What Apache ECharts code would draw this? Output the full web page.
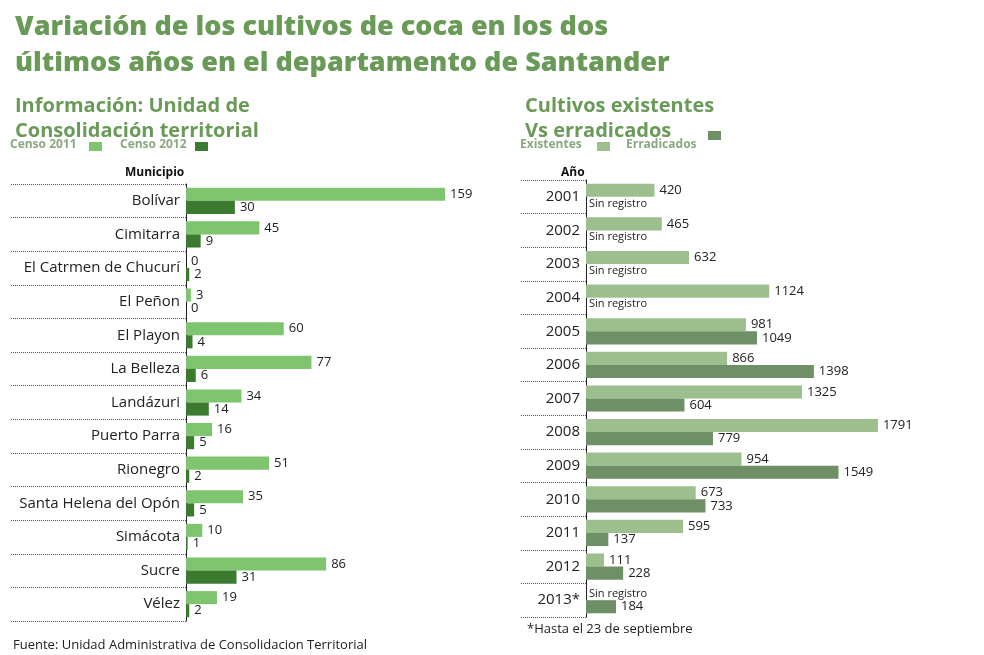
<!DOCTYPE html>
<html><head><meta charset="utf-8">
<script src="https://cdn.jsdelivr.net/npm/echarts@6/dist/echarts.min.js"></script>
<style>html,body{margin:0;background:#fff}#c{width:984px;height:655px}</style>
</head><body><div id="c"></div>
<script>
const municipios = ['Bolívar','Cimitarra','El Catrmen de Chucurí','El Peñon','El Playon','La Belleza','Landázuri','Puerto Parra','Rionegro','Santa Helena del Opón','Simácota','Sucre','Vélez'];
const censo2011 = [159,45,0,3,60,77,34,16,51,35,10,86,19];
const censo2012 = [30,9,2,0,4,6,14,5,2,5,1,31,2];
const anios = ['2001','2002','2003','2004','2005','2006','2007','2008','2009','2010','2011','2012','2013*'];
const existentes = [420,465,632,1124,981,866,1325,1791,954,673,595,111,null];
const erradicados = [null,null,null,null,1049,1398,604,779,1549,733,137,228,184];

const cL = '#7fc56f', cD = '#3b7a2f', rL = '#9dbf8d', rD = '#6f8f66', tg = '#6a9a58';
const font = 'Open Sans';
const lbl = {show:true,position:'right',color:'#222',fontSize:13,fontFamily:font};
const withNull = arr => arr.map(v => v === null ? {value:0,label:{...lbl,formatter:'Sin registro',fontSize:11,position:'insideLeft',offset:[-2,0]}} : v);
const catAxis = (data, idx, tickLen) => ({type:'category',gridIndex:idx,data,inverse:true,
  axisLine:{lineStyle:{color:'#222'}},
  axisTick:{show:true,length:tickLen,lineStyle:{type:'dotted',color:'#555'}},
  axisLabel:{color:'#222',fontSize:15,fontFamily:font,margin:6},
  splitLine:{show:false}});
const valAxis = (max, idx) => ({type:'value',gridIndex:idx,min:0,max,show:false,splitLine:{show:false}});
const chart = echarts.init(document.getElementById('c'));
chart.setOption({
  animation:false,
  title:[
    {text:'Variación de los cultivos de coca en los dos\núltimos años en el departamento de Santander',left:10,top:4,
     textStyle:{color:tg,fontSize:27,fontWeight:900,fontFamily:font,lineHeight:36}},
    {text:'Información: Unidad de\nConsolidación territorial',left:10,top:89,textStyle:{color:tg,fontSize:20,fontWeight:'bold',fontFamily:font,lineHeight:25}},
    {text:'Cultivos existentes\nVs erradicados',left:520,top:89,textStyle:{color:tg,fontSize:20,fontWeight:'bold',fontFamily:font,lineHeight:25}},
    {text:'Fuente: Unidad Administrativa de Consolidacion Territorial',left:8,top:634,textStyle:{color:'#222',fontSize:13,fontWeight:'normal',fontFamily:font}},
    {text:'*Hasta el 23 de septiembre',left:522,top:618,textStyle:{color:'#222',fontSize:13,fontWeight:'normal',fontFamily:font}},
    {text:'Municipio',left:120,top:162,textStyle:{color:'#111',fontSize:12,fontWeight:'bold',fontFamily:font}},
    {text:'Año',left:556,top:162,textStyle:{color:'#111',fontSize:12,fontWeight:'bold',fontFamily:font}}
  ],
  graphic:[
    {type:'text',left:10,top:139,style:{text:'Censo 2011',fill:'#8aa880',font:'bold 12px Open Sans'}},
    {type:'rect',left:89,top:142,shape:{width:13,height:9},style:{fill:cL}},
    {type:'text',left:120,top:139,style:{text:'Censo 2012',fill:'#8aa880',font:'bold 12px Open Sans'}},
    {type:'rect',left:195,top:142,shape:{width:13,height:9},style:{fill:cD}},
    {type:'text',left:520,top:139,style:{text:'Existentes',fill:'#8aa880',font:'bold 12px Open Sans'}},
    {type:'rect',left:597,top:142,shape:{width:13,height:9},style:{fill:rL}},
    {type:'text',left:626,top:139,style:{text:'Erradicados',fill:'#8aa880',font:'bold 12px Open Sans'}},
    {type:'rect',left:708,top:131,shape:{width:13,height:9},style:{fill:rD}}
  ],
  grid:[
    {left:186,top:184,width:277,height:437},
    {left:586,top:180,width:326,height:437}
  ],
  yAxis:[catAxis(municipios,0,176),catAxis(anios,1,66)],
  xAxis:[valAxis(170,0),valAxis(2000,1)],
  series:[
    {type:'bar',xAxisIndex:0,yAxisIndex:0,data:censo2011,itemStyle:{color:cL},barGap:'0%',barCategoryGap:'22%',label:lbl},
    {type:'bar',xAxisIndex:0,yAxisIndex:0,data:censo2012,itemStyle:{color:cD},label:lbl},
    {type:'bar',xAxisIndex:1,yAxisIndex:1,data:withNull(existentes),itemStyle:{color:rL},barGap:'0%',barCategoryGap:'22%',label:lbl},
    {type:'bar',xAxisIndex:1,yAxisIndex:1,data:withNull(erradicados),itemStyle:{color:rD},label:lbl}
  ]
});
</script></body></html>
